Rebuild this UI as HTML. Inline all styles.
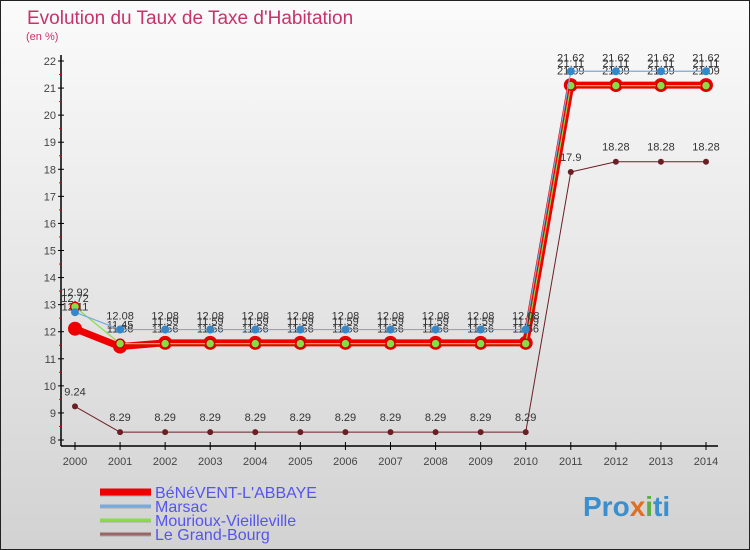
<!DOCTYPE html>
<html><head><meta charset="utf-8"><style>
body{margin:0;width:750px;height:550px;overflow:hidden;font-family:"Liberation Sans",sans-serif}
svg{display:block}
</style></head><body>
<svg id="c" width="750" height="550" xmlns="http://www.w3.org/2000/svg">
<defs><linearGradient id="bg" x1="0" y1="0" x2="0" y2="1"><stop offset="0" stop-color="#fbfbfb"/><stop offset="1" stop-color="#d2d2d2"/></linearGradient></defs>
<rect x="0.5" y="0.5" width="749" height="549" fill="url(#bg)" stroke="#222"/>
<text x="27" y="24" font-size="19" fill="#c8326a">Evolution du Taux de Taxe d'Habitation</text>
<text x="26" y="40" font-size="11" fill="#c8326a">(en %)</text>
<g id="axes"></g><g id="series"></g><g id="legend"></g>
<text x="583" y="516" font-size="28" font-weight="bold" fill="#3a8fd0">Pro<tspan fill="#e07020">x</tspan><tspan fill="#58b040">i</tspan>ti</text>
</svg>
<script>
const years=[2000,2001,2002,2003,2004,2005,2006,2007,2008,2009,2010,2011,2012,2013,2014];
const yTicks=[8,9,10,11,12,13,14,15,16,17,18,19,20,21,22];
const benevent=[12.11,11.45,11.59,11.59,11.59,11.59,11.59,11.59,11.59,11.59,11.59,21.11,21.11,21.11,21.11];
const marsac=[12.72,12.08,12.08,12.08,12.08,12.08,12.08,12.08,12.08,12.08,12.08,21.62,21.62,21.62,21.62];
const mourioux=[12.92,11.56,11.56,11.56,11.56,11.56,11.56,11.56,11.56,11.56,11.56,21.09,21.09,21.09,21.09];
const grandBourg=[9.24,8.29,8.29,8.29,8.29,8.29,8.29,8.29,8.29,8.29,8.29,17.9,18.28,18.28,18.28];
const names=["BéNéVENT-L'ABBAYE","Marsac","Mourioux-Vieilleville","Le Grand-Bourg"];
const NS="http://www.w3.org/2000/svg";
const X=y=>75+(y-2000)*(706-75)/14;
const Y=v=>440-(v-8)*(440-61)/14;
function mk(p,t,a){const e=document.createElementNS(NS,t);for(const k in a)e.setAttribute(k,a[k]);p.appendChild(e);return e;}
const ax=document.getElementById('axes');
let l=mk(ax,'line',{x1:61,y1:55,x2:61,y2:446,stroke:'#000','stroke-width':1.5});


l=mk(ax,'line',{x1:61,y1:446,x2:718,y2:446,stroke:'#000','stroke-width':1.5});


yTicks.forEach(v=>{mk(ax,'line',{x1:58,y1:Y(v),x2:64,y2:Y(v),stroke:'#000'});
 if(v<22) mk(ax,'line',{x1:59,y1:Y(v+0.5),x2:61,y2:Y(v+0.5),stroke:'#e00'});
 const t=mk(ax,'text',{x:56,y:Y(v)+4,'font-size':11,fill:'#444','text-anchor':'end'});t.textContent=v;
 
 });
years.forEach(y=>{mk(ax,'line',{x1:X(y),y1:442,x2:X(y),y2:450,stroke:'#000'});
 const t=mk(ax,'text',{x:X(y),y:465,'font-size':11,fill:'#444','text-anchor':'middle'});t.textContent=y;
 
 });
const sg=document.getElementById('series');
function series(vals,color,w,name,r,fillc,stroke,sw,labelOff){
 const g=mk(sg,'g',{});
 
 
 const pts=vals.map((v,i)=>X(years[i])+','+Y(v)).join(' ');
 mk(g,'polyline',{points:pts,fill:'none',stroke:color,'stroke-width':w,'stroke-linejoin':'round'});
 vals.forEach((v,i)=>{const c=mk(g,'circle',{cx:X(years[i]),cy:Y(v),r:r,fill:fillc,stroke:stroke,'stroke-width':sw});
  
  
  const t=mk(g,'text',{x:X(years[i]),y:Y(v)+labelOff,'font-size':11,fill:'#333','text-anchor':'middle'});t.textContent=String(v);});
}
series(grandBourg,'#6b1f25',1,'series-le-grand-bourg',3,'#6b1f25','none',0,-11);
series(benevent,'#ee0000',7,'series-benevent',7,'#ee0000','#ee0000',0,-18);
series(mourioux,'#88dd44',1.2,'series-mourioux',4.5,'#88dd44','#cc0000',1.5,-11);
series(marsac,'#77aadd',1.2,'series-marsac',4,'#3388cc','none',0,-10);
const lg=document.getElementById('legend');
const lc=['#ee0000','#77aadd','#88dd44','#996666'],lw=[7,3,3,3];
names.forEach((n,i)=>{const y=492+i*14;
 mk(lg,'line',{x1:100,y1:y+1,x2:151,y2:y+1,stroke:'#aaa','stroke-width':lw[i]});
 const ln=mk(lg,'line',{x1:100,y1:y,x2:151,y2:y,stroke:lc[i],'stroke-width':lw[i]});
 
 
 const t=mk(lg,'text',{x:155,y:y+6,'font-size':16,fill:'#5555ee'});t.textContent=n;
 
 });
</script>
</body></html>
